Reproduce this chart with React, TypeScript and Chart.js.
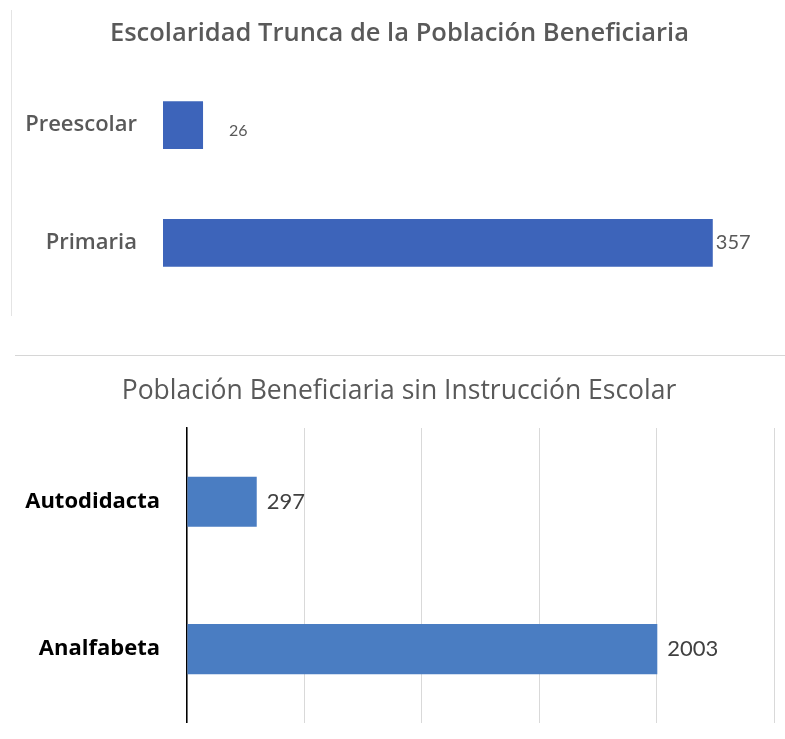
import React, { useEffect, useRef } from "react";
import { Chart, registerables } from "chart.js";
Chart.register(...registerables);

const topTitle = "Escolaridad Trunca de la Población Beneficiaria";
const topCategories = ["Preescolar", "Primaria"];
const topValues = [26, 357];

const bottomTitle = "Población Beneficiaria sin Instrucción Escolar";
const bottomCategories = ["Autodidacta", "Analfabeta"];
const bottomValues = [297, 2003];
const bottomAxisMax = 2500;
const bottomAxisStep = 500;

const FONT = "'Open Sans', Lato, sans-serif";
const NUM_FONT = "Lato, 'Open Sans', sans-serif";

const valueLabelPlugin = {
  id: "valueLabels",
  afterDatasetsDraw(chart: any, _args: any, opts: any) {
    const ctx = chart.ctx;
    const meta = chart.getDatasetMeta(0);
    const data = chart.data.datasets[0].data;
    ctx.save();
    ctx.fillStyle = opts.color;
    ctx.textAlign = "left";
    ctx.textBaseline = "middle";
    meta.data.forEach((bar: any, i: number) => {
      const dx = opts.dx[i] ?? opts.dx[0];
      const dy = (opts.dy && opts.dy[i]) || 0;
      const size = (opts.sizes && opts.sizes[i]) || opts.size;
      ctx.font = `400 ${size}px ${NUM_FONT}`;
      ctx.fillText(String(data[i]), bar.x + dx, bar.y + dy);
    });
    ctx.restore();
  },
};

function TopChart() {
  const ref = useRef<HTMLCanvasElement>(null);
  useEffect(() => {
    const chart = new Chart(ref.current as HTMLCanvasElement, {
      type: "bar",
      data: {
        labels: topCategories,
        datasets: [
          {
            data: topValues,
            backgroundColor: "#3D64BA",
            barPercentage: 0.9,
            categoryPercentage: 0.45,
          },
        ],
      },
      plugins: [valueLabelPlugin],
      options: {
        indexAxis: "y",
        animation: false,
        responsive: false,
        layout: { padding: { left: 20, right: 6, top: 0, bottom: 0 } },
        plugins: {
          legend: { display: false },
          tooltip: { enabled: false },
          title: {
            display: true,
            text: topTitle,
            color: "#595959",
            font: { family: FONT, size: 25.5, weight: "600" },
            padding: { top: 18, bottom: 17.5 },
          },
          valueLabels: { color: "#595959", dx: [26, 3], dy: [6, 0], sizes: [16, 20], size: 16 },
        } as any,
        scales: {
          x: { display: false, min: 0, max: 400 },
          y: {
            afterFit: (s: any) => {
              s.width = 143;
            },
            grid: { display: false, drawTicks: false },
            border: { display: false },
            ticks: {
              padding: 26,
              color: "#595959",
              font: { family: FONT, size: 22, weight: "600" },
            },
          },
        },
      },
    } as any);
    return () => chart.destroy();
  }, []);
  return <canvas ref={ref} width={785} height={341} style={{ display: "block" }} />;
}

function BottomChart() {
  const ref = useRef<HTMLCanvasElement>(null);
  useEffect(() => {
    const chart = new Chart(ref.current as HTMLCanvasElement, {
      type: "bar",
      data: {
        labels: bottomCategories,
        datasets: [
          {
            data: bottomValues,
            backgroundColor: "#4A7DC2",
            barPercentage: 0.85,
            categoryPercentage: 0.4,
          },
        ],
      },
      plugins: [valueLabelPlugin],
      options: {
        indexAxis: "y",
        animation: false,
        responsive: false,
        layout: { padding: { left: 24, right: 11, top: 0, bottom: 0 } },
        plugins: {
          legend: { display: false },
          tooltip: { enabled: false },
          title: {
            display: true,
            text: bottomTitle,
            color: "#595959",
            font: { family: FONT, size: 26.5, weight: "400" },
            padding: { top: 36, bottom: 20.2 },
          },
          valueLabels: { color: "#404040", dx: [10, 10], size: 22 },
        } as any,
        scales: {
          x: {
            min: 0,
            max: bottomAxisMax,
            afterFit: (s: any) => {
              s.height = 0;
            },
            ticks: { stepSize: bottomAxisStep, display: false },
            grid: { color: "#d9d9d9", drawTicks: false, lineWidth: 1 },
            border: { display: false },
          },
          y: {
            afterFit: (s: any) => {
              s.width = 163;
            },
            grid: { display: false, drawTicks: false },
            border: { display: true, color: "#000000", width: 1.5 },
            ticks: {
              padding: 27,
              color: "#000000",
              font: { family: FONT, size: 22, weight: "700" },
            },
          },
        },
      },
    } as any);
    return () => chart.destroy();
  }, []);
  return <canvas ref={ref} width={785} height={423} style={{ display: "block" }} />;
}

export default function App() {
  return (
    <div
      style={{
        position: "absolute",
        left: 0,
        top: 0,
        width: 785,
        height: 739,
        background: "#ffffff",
        overflow: "hidden",
      }}
    >
      <div style={{ position: "absolute", left: 0, top: 0 }}>
        <TopChart />
      </div>
      <div
        style={{
          position: "absolute",
          left: 11,
          top: 10,
          width: 1,
          height: 306,
          background: "#e4e4e4",
        }}
      />
      <div style={{ position: "absolute", left: 0, top: 340 }}>
        <BottomChart />
      </div>
      <div
        style={{
          position: "absolute",
          left: 15,
          top: 355,
          width: 770,
          height: 1,
          background: "#d6d6d6",
        }}
      />
    </div>
  );
}
